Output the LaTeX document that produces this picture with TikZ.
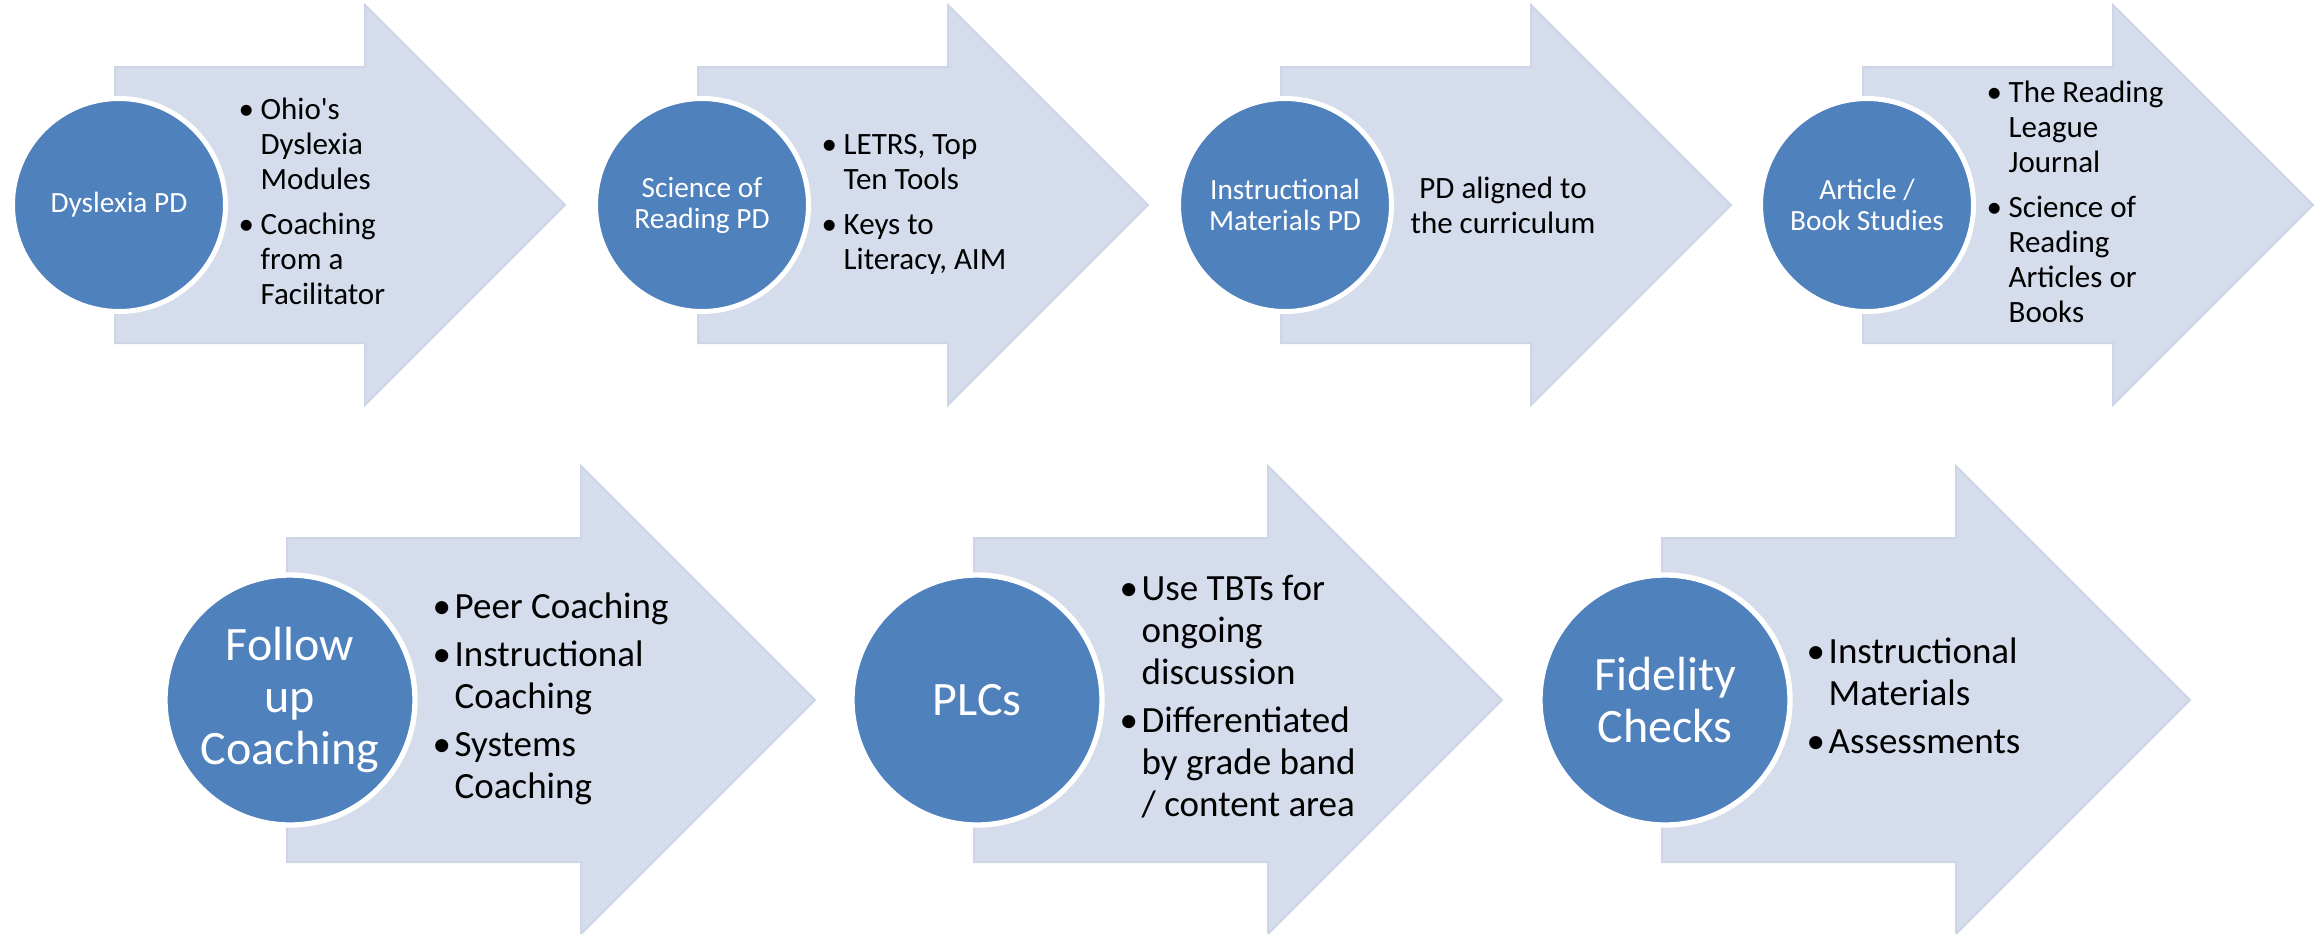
\documentclass[tikz,border=0pt]{standalone}
\usepackage{fontspec}
\setmainfont{Carlito}
\definecolor{arrowfill}{HTML}{D5DCEB}
\definecolor{arrowedge}{HTML}{CDD5E7}
\definecolor{circfill}{HTML}{4F81BD}
\newcommand{\topcirc}{\fontsize{8.8pt}{9.3pt}\selectfont}
\newcommand{\toptext}{\fontsize{9.3pt}{10.5pt}\selectfont}
\newcommand{\botcirc}{\fontsize{14.4pt}{15.6pt}\selectfont}
\newcommand{\bottext}{\fontsize{11.1pt}{12.6pt}\selectfont}
\newcommand{\bt}{\makebox[6.6pt][l]{\textbullet}}
\newcommand{\toparrow}[1]{%
  \path[arrowshape] (#1,67) -- (#1+250,67) -- (#1+250,5) -- (#1+450,205) -- (#1+250,405) -- (#1+250,343) -- (#1,343) -- cycle;}
\newcommand{\botarrow}[1]{%
  \path[arrowshape] (#1,538) -- (#1+294,538) -- (#1+294,466) -- (#1+528,700) -- (#1+294,934) -- (#1+294,862) -- (#1,862) -- cycle;}
\begin{document}
\begin{tikzpicture}[x=0.3pt,y=-0.3pt,
  arrowshape/.style={fill=arrowfill,draw=arrowedge,line width=0.6pt,line join=miter},
  topdisc/.style={circle,fill=circfill,draw=white,line width=1.5pt,minimum size=63.9pt,inner sep=0pt,text=white,align=center,font=\topcirc},
  botdisc/.style={circle,fill=circfill,draw=white,line width=1.6pt,minimum size=75.0pt,inner sep=0pt,text=white,align=center,font=\botcirc},
  toplist/.style={anchor=west,inner sep=0pt,font=\toptext},
  botlist/.style={anchor=west,inner sep=0pt,font=\bottext}]
\useasboundingbox (0,0) rectangle (2323,933);
\clip (0,0) rectangle (2323,933);
% top row
\toparrow{115}
\toparrow{698}
\toparrow{1281}
\toparrow{1863}
\node[topdisc] (c1) at (119,205) {Dyslexia PD};
\node[topdisc] (c2) at (702,205) {Science of\\Reading PD};
\node[topdisc] (c3) at (1285,205) {Instructional\\Materials PD};
\node[topdisc] (c4) at (1867,205) {Article /\\Book Studies};
\node[toplist] (t1) at (238,205) {\toptext\begin{tabular}{@{}l@{}l@{}}
\bt & Ohio\textquotesingle s\\ & Dyslexia\\ & Modules\\[3pt]
\bt & Coaching\\ & from a\\ & Facilitator\end{tabular}};
\node[toplist] (t2) at (821,205) {\toptext\begin{tabular}{@{}l@{}l@{}}
\bt & LETRS, Top\\ & Ten Tools\\[3pt]
\bt & Keys to\\ & Literacy, AIM\end{tabular}};
\node[inner sep=0pt,align=center,font=\toptext] (t3) at (1503,205) {PD aligned to\\the curriculum};
\node[toplist] (t4) at (1986,205) {\toptext\begin{tabular}{@{}l@{}l@{}}
\bt & The Reading\\ & League\\ & Journal\\[3pt]
\bt & Science of\\ & Reading\\ & Articles or\\ & Books\end{tabular}};
% bottom row
\botarrow{287}
\botarrow{974}
\botarrow{1662}
\node[botdisc] (c5) at (290,700) {Follow\\up\\Coaching};
\node[botdisc] (c6) at (977,700) {PLCs};
\node[botdisc] (c7) at (1665,700) {Fidelity\\Checks};
\node[botlist] (t5) at (432,700) {\bottext\begin{tabular}{@{}l@{}l@{}}
\bt & Peer Coaching\\[1.8pt]
\bt & Instructional\\ & Coaching\\[1.8pt]
\bt & Systems\\ & Coaching\end{tabular}};
\node[botlist] (t6) at (1119,700) {\bottext\begin{tabular}{@{}l@{}l@{}}
\bt & Use TBTs for\\ & ongoing\\ & discussion\\[1.8pt]
\bt & Differentiated\\ & by grade band\\ & / content area\end{tabular}};
\node[botlist] (t7) at (1806,700) {\bottext\begin{tabular}{@{}l@{}l@{}}
\bt & Instructional\\ & Materials\\[1.8pt]
\bt & Assessments\end{tabular}};
\end{tikzpicture}
\end{document}
